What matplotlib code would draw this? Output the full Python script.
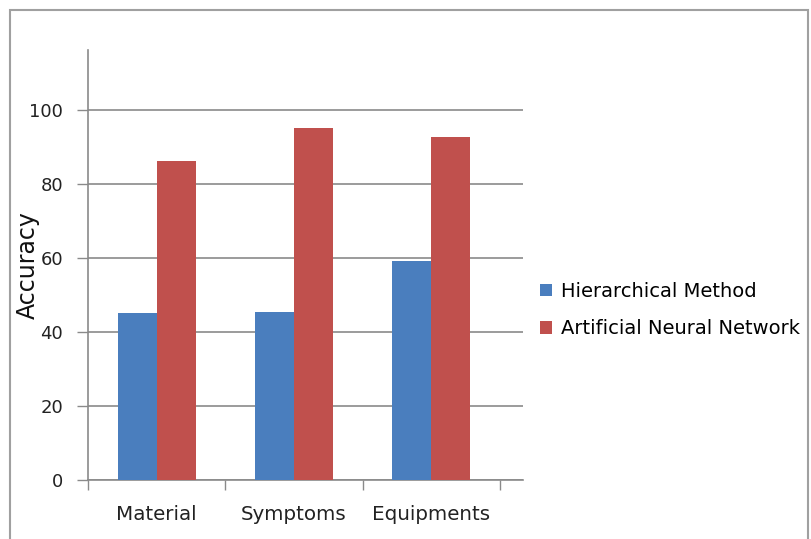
import numpy as np
import matplotlib
matplotlib.use('Agg')
import matplotlib.pyplot as plt
from matplotlib.patches import Rectangle

categories = ['Material', 'Symptoms', 'Equipments']
hierarchical = [45.1, 45.5, 59.3]
ann = [86.3, 95.1, 92.7]
series_names = ['Hierarchical Method', 'Artificial Neural Network']
yticks = [0, 20, 40, 60, 80, 100]

blue = '#4A7EBE'
red = '#C0504D'
grey = '#8A8A8A'

fig = plt.figure(figsize=(8.12, 5.39), dpi=100)
ax = fig.add_axes([88 / 812, 1 - 480 / 539, 435 / 812, 430 / 539])

x = np.arange(len(categories))
w = 0.285
b1 = ax.bar(x - w / 2, hierarchical, w, color=blue, label=series_names[0], zorder=3)
b2 = ax.bar(x + w / 2, ann, w, color=red, label=series_names[1], zorder=3)

ax.set_xlim(-0.5, 2.668)
ax.set_ylim(0, 116.2)
ax.set_yticks(yticks)
ax.set_yticklabels([str(t) for t in yticks], fontsize=13, color='#222222')
ax.set_xticks(x)
ax.set_xticklabels(categories, fontsize=14.3, color='#222222')
ax.set_xticks([-0.5, 0.5, 1.5, 2.5], minor=True)
ax.tick_params(axis='x', which='major', length=0, pad=18)
ax.tick_params(axis='x', which='minor', length=7, width=1, color=grey)
ax.tick_params(axis='y', length=8, width=1, color=grey, pad=10)

ax.yaxis.grid(True, color=grey, linewidth=1.2, zorder=0)
ax.set_axisbelow(True)
for s in ['top', 'right']:
    ax.spines[s].set_visible(False)
for s in ['left', 'bottom']:
    ax.spines[s].set_color(grey)
    ax.spines[s].set_linewidth(1.2)

ax.set_ylabel('Accuracy', fontsize=17, color='#111111')
ax.yaxis.set_label_coords(-0.11, 0.5)

ax.legend(handles=[b1, b2], loc='center left', bbox_to_anchor=(540 / 812, 1 - 310 / 539),
          bbox_transform=fig.transFigure, frameon=False, fontsize=14,
          handlelength=0.6, handleheight=0.6, handletextpad=0.5,
          labelspacing=0.95, borderpad=0, borderaxespad=0)

fig.patches.append(Rectangle((10 / 812, -0.05), 798 / 812, 1.05 - 10 / 539,
                             transform=fig.transFigure, fill=False,
                             edgecolor='#A0A0A0', linewidth=1.5))

fig.savefig('out.png', dpi=100)
